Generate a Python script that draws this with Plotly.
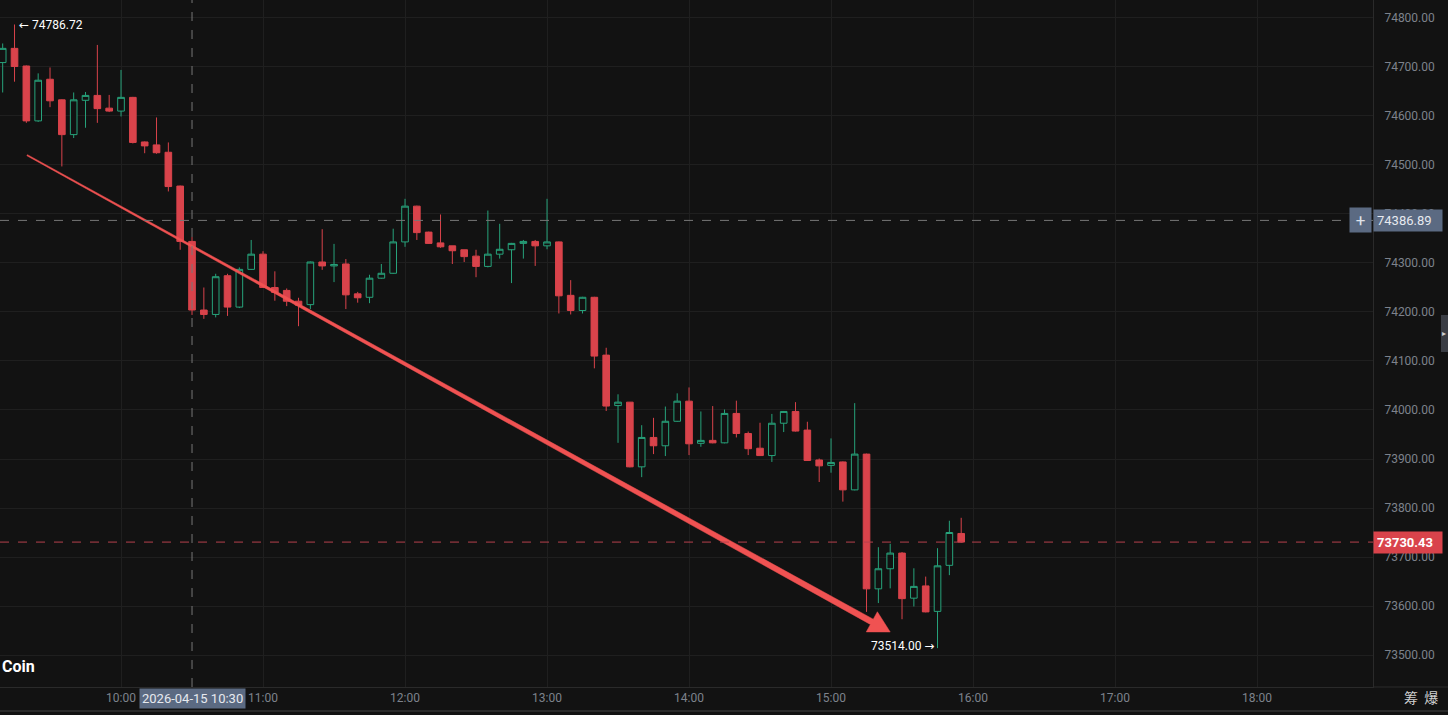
import numpy as np
import pandas as pd
import plotly.graph_objects as go

# 5-minute candles, 2026-04-15 09:10 .. 15:55
times = pd.date_range('2026-04-15 09:10', periods=82, freq='5min')

opens = [74709, 74738, 74702, 74590, 74675, 74633, 74562, 74632, 74642, 74616,
         74610, 74638, 74547, 74541, 74526, 74457, 74344, 74204, 74195, 74274,
         74210, 74287, 74318, 74250, 74244, 74222, 74215, 74302, 74294, 74298,
         74237, 74230, 74269, 74279, 74343, 74416, 74363, 74341, 74335, 74327,
         74314, 74293, 74318, 74327, 74340, 74344, 74335, 74343, 74234, 74203,
         74230, 74112, 74009, 74016, 73884, 73944, 73927, 73977, 74018, 73932,
         73938, 73933, 73993, 73952, 73922, 73907, 73973, 73997, 73959, 73898,
         73887, 73894, 73837, 73910, 73635, 73676, 73708, 73616, 73641, 73589,
         73683, 73748]
highs = [74748, 74786.72, 74703, 74687, 74699, 74634, 74648, 74649, 74745, 74643,
         74694, 74639, 74548, 74597, 74546, 74458, 74353, 74250, 74278, 74278,
         74291, 74347, 74324, 74283, 74248, 74229, 74303, 74369, 74339, 74308,
         74241, 74276, 74298, 74370, 74431, 74417, 74364, 74399, 74335, 74327,
         74327, 74407, 74380, 74341, 74347, 74347, 74431, 74344, 74265, 74231,
         74231, 74127, 74032, 74016, 73969, 73984, 74007, 74034, 74046, 73997,
         74008, 74001, 74019, 73956, 73974, 73992, 73998, 74016, 73976, 73901,
         73942, 73895, 74014, 73911, 73720, 73727, 73710, 73677, 73660, 73718,
         73774, 73780]
lows = [74648, 74670, 74586, 74588, 74618, 74497, 74555, 74576, 74586, 74608,
        74599, 74544, 74524, 74523, 74446, 74327, 74194, 74186, 74189, 74192,
        74208, 74286, 74249, 74223, 74212, 74171, 74206, 74286, 74261, 74206,
        74219, 74218, 74268, 74278, 74333, 74347, 74339, 74331, 74298, 74302,
        74271, 74291, 74309, 74259, 74309, 74294, 74328, 74197, 74195, 74197,
        74085, 73998, 73933, 73883, 73863, 73910, 73906, 73976, 73908, 73925,
        73932, 73932, 73944, 73908, 73906, 73894, 73955, 73956, 73896, 73853,
        73872, 73813, 73836, 73588, 73606, 73636, 73573, 73599, 73587, 73514,
        73663, 73729]
closes = [74738, 74701, 74590, 74673, 74631, 74562, 74633, 74642, 74615, 74610,
          74638, 74546, 74539, 74525, 74456, 74344, 74204, 74195, 74272, 74210,
          74287, 74318, 74250, 74240, 74222, 74214, 74302, 74294, 74297, 74235,
          74229, 74269, 74279, 74343, 74416, 74362, 74340, 74333, 74325, 74313,
          74293, 74318, 74328, 74340, 74344, 74335, 74343, 74233, 74203, 74230,
          74110, 74008, 74016, 73884, 73944, 73927, 73977, 74018, 73931, 73938,
          73933, 73993, 73952, 73921, 73907, 73973, 73997, 73957, 73897, 73886,
          73893, 73837, 73910, 73635, 73676, 73708, 73615, 73640, 73588, 73682,
          73750, 73730.43]

max_label = 74786.72
min_label = 73514.00
last_price = 73730.43
cross_time = '2026-04-15 10:30'
cross_price = 74386.89

# trend arrow drawn on the chart (start / tip)
arrow_start = (pd.Timestamp('2026-04-15 09:20:20'), 74520)
arrow_tip = (pd.Timestamp('2026-04-15 15:25:00'), 73547)

BG = '#121212'
GRID = '#1f1f1f'
RED = '#d9434b'
GREEN = '#27a37b'
ARROW = '#f05252'
SLATE = '#5b6a82'
TICK = '#7d828c'

x_range = [pd.Timestamp('2026-04-15 09:08:52'), pd.Timestamp('2026-04-15 18:49:00')]
y_range = [73434.7, 74836.7]
plot_w, plot_h = 1373, 687

fig = go.Figure()

fig.add_trace(go.Candlestick(
    x=times, open=opens, high=highs, low=lows, close=closes,
    increasing=dict(line=dict(color=GREEN, width=1), fillcolor=BG),
    decreasing=dict(line=dict(color=RED, width=1), fillcolor=RED),
    whiskerwidth=0,
    hoverinfo='skip',
    showlegend=False
))

# tapered arrow polygon, built in screen space then mapped back to data
sx = plot_w / ((x_range[1] - x_range[0]).total_seconds() * 1000)
sy = plot_h / (y_range[1] - y_range[0])
t0 = x_range[0]
S = np.array([(arrow_start[0] - t0).total_seconds() * 1000 * sx, arrow_start[1] * sy])
T = np.array([(arrow_tip[0] - t0).total_seconds() * 1000 * sx, arrow_tip[1] * sy])
u = (T - S) / np.linalg.norm(T - S)
n = np.array([-u[1], u[0]])
B = T - u * 21
pts = [S + n * 0.6, B + n * 3, B + n * 11.5, T, B - n * 11.5, B - n * 3, S - n * 0.6, S + n * 0.6]
ax_x = [t0 + pd.Timedelta(milliseconds=p[0] / sx) for p in pts]
ax_y = [p[1] / sy for p in pts]
fig.add_trace(go.Scatter(
    x=ax_x, y=ax_y, mode='lines', fill='toself', fillcolor=ARROW,
    line=dict(width=0.5, color=ARROW), hoverinfo='skip', showlegend=False
))

shapes = [
    # crosshair
    dict(type='line', xref='x', yref='paper', x0=cross_time, x1=cross_time, y0=0, y1=1,
         line=dict(color='#767676', width=1, dash='dash')),
    dict(type='line', xref='paper', yref='y', x0=0, x1=1, y0=cross_price, y1=cross_price,
         line=dict(color='#767676', width=1, dash='dash')),
    # last price line
    dict(type='line', xref='paper', yref='y', x0=0, x1=1, y0=last_price, y1=last_price,
         line=dict(color='#b5414c', width=1, dash='dash')),
    # bottom border
    dict(type='line', xref='paper', yref='paper', x0=0, x1=1448 / plot_w, y0=-24 / plot_h, y1=-24 / plot_h,
         line=dict(color='#2a2a2a', width=2)),
    # axis border under time labels
    dict(type='line', xref='paper', yref='paper', x0=1, x1=1448 / plot_w, y0=0, y1=0,
         line=dict(color='#2a2a2a', width=1)),
    # side tab
    dict(type='rect', xref='paper', yref='paper', x0=1441 / plot_w, x1=1449 / plot_w,
         y0=1 - 352 / plot_h, y1=1 - 315 / plot_h, fillcolor='#3a3d44', line=dict(width=0)),
]

annotations = [
    dict(x=times[1], y=max_label, text='← %.2f' % max_label, showarrow=False,
         xanchor='left', yanchor='middle', xshift=2, yshift=-1,
         font=dict(color='#ffffff', size=12)),
    dict(x=times[79], y=min_label, text='%.2f →' % min_label, showarrow=False,
         xanchor='right', yanchor='middle', xshift=-2, yshift=2,
         font=dict(color='#ffffff', size=12)),
    dict(x=cross_time, y=0, xref='x', yref='paper', text=cross_time, showarrow=False,
         xanchor='center', yanchor='top', yshift=-1, bgcolor=SLATE, borderpad=2,
         font=dict(color='#e6e9ef', size=13)),
    dict(x=1, y=cross_price, xref='paper', yref='y', text='%.2f' % cross_price, showarrow=False,
         xanchor='left', yanchor='middle', bgcolor=SLATE, borderpad=3, width=62, align='left',
         font=dict(color='#e6e9ef', size=13)),
    dict(x=1, y=cross_price, xref='paper', yref='y', text='+', showarrow=False,
         xanchor='right', yanchor='middle', xshift=-1, bgcolor=SLATE, borderpad=2, width=17,
         font=dict(color='#dfe3ea', size=17)),
    dict(x=1, y=last_price, xref='paper', yref='y', text='<b>%.2f</b>' % last_price, showarrow=False,
         xanchor='left', yanchor='middle', bgcolor=RED, borderpad=3, width=62, align='left',
         font=dict(color='#ffffff', size=13)),
    dict(x=0, y=1 - 666 / plot_h, xref='paper', yref='paper', text='<b>Coin</b>', showarrow=False,
         xanchor='left', yanchor='middle', font=dict(color='#ffffff', size=16)),
    dict(x=1421 / plot_w, y=-10 / plot_h, xref='paper', yref='paper', text='筹  爆', showarrow=False,
         xanchor='center', yanchor='middle',
         font=dict(color='#cfcfcf', size=14, family='Noto Sans CJK SC')),
    dict(x=1444 / plot_w, y=1 - 333 / plot_h, xref='paper', yref='paper', text='▸', showarrow=False,
         xanchor='center', yanchor='middle', font=dict(color='#d0d0d0', size=8)),
]

fig.update_layout(
    width=1448, height=715,
    margin=dict(l=0, r=75, t=0, b=28),
    paper_bgcolor=BG, plot_bgcolor=BG,
    font=dict(family='Roboto, DejaVu Sans', color=TICK, size=12),
    showlegend=False,
    hovermode=False,
    boxgap=0.2,
    shapes=shapes,
    annotations=annotations,
    xaxis=dict(
        type='date', range=x_range, rangeslider=dict(visible=False),
        dtick=3600000, tick0='2026-04-15 00:00', tickformat='%H:%M',
        showgrid=True, gridcolor=GRID, gridwidth=1,
        showline=True, linecolor='#2a2a2a', linewidth=1,
        ticks='', tickfont=dict(color=TICK, size=12), zeroline=False, fixedrange=True
    ),
    yaxis=dict(
        side='right', range=y_range, dtick=100, tick0=0, tickformat='.2f',
        showgrid=True, gridcolor=GRID, gridwidth=1,
        showline=True, linecolor='#2a2a2a', linewidth=1,
        ticks='outside', ticklen=8, tickcolor='rgba(0,0,0,0)',
        tickfont=dict(color=TICK, size=12), zeroline=False, fixedrange=True
    ),
)

fig.write_html('out.html', config={'displayModeBar': False, 'staticPlot': True},
               post_script="document.body.style.margin='0';document.body.style.background='%s';" % BG)
